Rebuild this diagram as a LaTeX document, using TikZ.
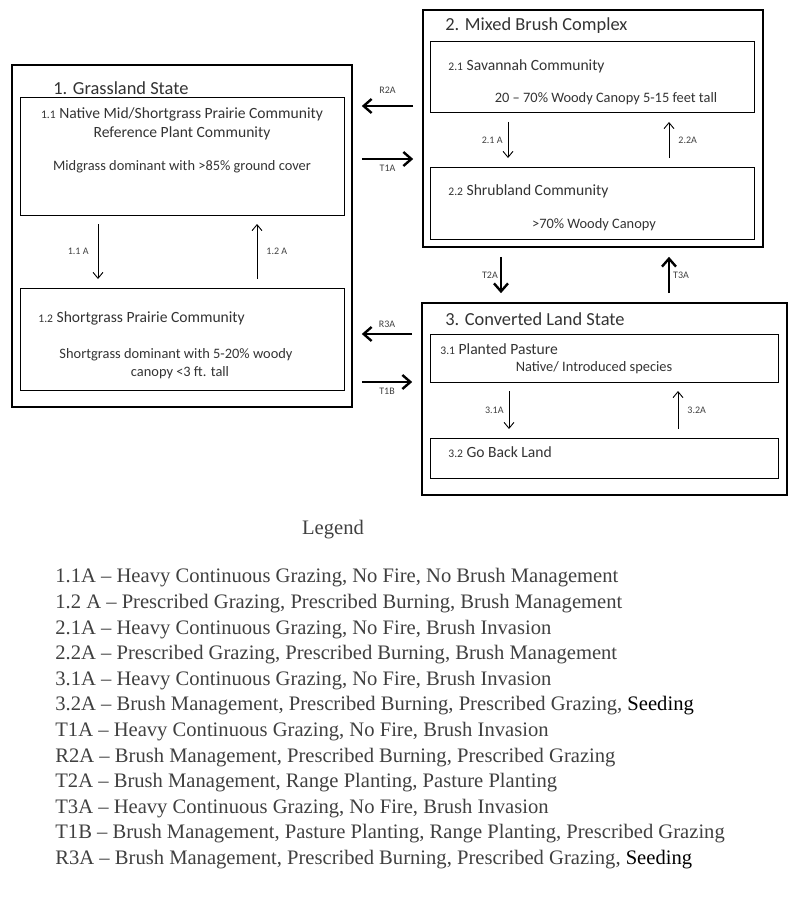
\documentclass[tikz,border=0pt]{standalone}
\usepackage{fontspec}
\setmainfont{Carlito}
\newfontfamily\legfont{Liberation Serif}
\usetikzlibrary{arrows.meta,fit,calc}

\begin{document}
\begin{tikzpicture}[x=0.5pt,y=-0.5pt,
		statebox/.style={draw, line width=1.3pt, inner sep=0pt},
		commbox/.style={draw, line width=0.5pt, inner sep=0pt},
		title/.style={font=\fontsize{9.2}{10}\selectfont, text=black!80, inner sep=0pt, anchor=west},
		head/.style={font=\fontsize{7.8}{8}\selectfont, text=black!80, inner sep=0pt},
		txt/.style={font=\fontsize{7.2}{8}\selectfont, text=black!80, inner sep=0pt},
		lab/.style={font=\fontsize{5}{6}\selectfont, text=black!75, inner sep=2.5pt},
		inarrow/.style={-{Straight Barb[length=3pt,width=5pt]}, line width=0.45pt},
		trarrow/.style={-{Straight Barb[length=4pt,width=7pt]}, line width=1.2pt},
		legline/.style={font=\legfont\fontsize{10.3}{12}\selectfont, text=black!75, inner sep=0pt, anchor=west}]
		\newcommand{\arrgap}{8.5} % space between a box and an arrow
		\newcommand{\legx}{55}
		\newcommand{\legy}{552.4}
		\newcommand{\legspac}{25.6}
		\newcommand{\cno}[1]{{\fontsize{5.8}{6}\selectfont #1}}

		\useasboundingbox (0,0) rectangle (800,920);

		% states
		\node[statebox, fit={(12,65) (352,407)}] (s1) {};
		\node[statebox, fit={(423,10) (763,247)}] (s2) {};
		\node[statebox, fit={(422,303) (787,495)}] (s3) {};

		% communities
		\node[commbox, fit={(20,98) (344,215)}] (c11) {};
		\node[commbox, fit={(20,288) (344,390)}] (c12) {};
		\node[commbox, fit={(430,42) (754,113)}] (c21) {};
		\node[commbox, fit={(430,167) (754,239)}] (c22) {};
		\node[commbox, fit={(430,334) (778,382)}] (c31) {};
		\node[commbox, fit={(430,438) (778,478)}] (c32) {};

		% texts of state 1
		\node[title] (t1) at (53,88) {1. Grassland State};
		\node[head] (t11a) at (182,114) {\cno{1.1} Native Mid/Shortgrass Prairie Community};
		\node[head] (t11b) at (182,133) {Reference Plant Community};
		\node[txt] (t11c) at (182,167) {Midgrass dominant with >85\% ground cover};
		\node[head, anchor=west] (t12a) at (38,318) {\cno{1.2} Shortgrass Prairie Community};
		\node[txt] (t12b) at (176,355) {Shortgrass dominant with 5-20\% woody};
		\node[txt] (t12c) at (180,373) {canopy <3 ft. tall};

		% texts of state 2
		\node[title] (t2) at (445,26) {2. Mixed Brush Complex};
		\node[head, anchor=west] (t21a) at (448,66) {\cno{2.1} Savannah Community};
		\node[txt] (t21b) at (606,99) {20 – 70\% Woody Canopy 5-15 feet tall};
		\node[head, anchor=west] (t22a) at (448,191) {\cno{2.2} Shrubland Community};
		\node[txt] (t22b) at (594,225) {>70\% Woody Canopy};

		% texts of state 3
		\node[title] (t3) at (445,319) {3. Converted Land State};
		\node[head, anchor=west] (t31a) at (440,349) {\cno{3.1} Planted Pasture};
		\node[txt] (t31b) at (594,368) {Native/ Introduced species};
		\node[head, anchor=west] (t32a) at (448,452) {\cno{3.2} Go Back Land};

		% where the arrows run
		\coordinate (x11) at (98,0);
		\coordinate (x12) at (257,0);
		\coordinate (x21) at (508,0);
		\coordinate (x22) at (669,0);
		\coordinate (x31) at (509,0);
		\coordinate (x32) at (678,0);
		\coordinate (xt2) at (501,0);
		\coordinate (xt3) at (669,0);
		\coordinate (yr2) at (0,106);
		\coordinate (yt1) at (0,159);
		\coordinate (yr3) at (0,334);
		\coordinate (yt1b) at (0,382);

		% arrows inside the states
		\draw[inarrow] ($(c11.south -| x11)+(0,\arrgap)$) -- ($(c12.north -| x11)-(0,\arrgap)$) node[lab, midway, left, xshift=-2pt] {1.1 A};
		\draw[inarrow] ($(c12.north -| x12)-(0,\arrgap)$) -- ($(c11.south -| x12)+(0,\arrgap)$) node[lab, midway, right, xshift=2pt] {1.2 A};
		\draw[inarrow] ($(c21.south -| x21)+(0,\arrgap)$) -- ($(c22.north -| x21)-(0,\arrgap)$) node[lab, midway, left] {2.1 A};
		\draw[inarrow] ($(c22.north -| x22)-(0,\arrgap)$) -- ($(c21.south -| x22)+(0,\arrgap)$) node[lab, midway, right, xshift=2pt] {2.2A};
		\draw[inarrow] ($(c31.south -| x31)+(0,\arrgap)$) -- ($(c32.north -| x31)-(0,\arrgap)$) node[lab, midway, left] {3.1A};
		\draw[inarrow] ($(c32.north -| x32)-(0,\arrgap)$) -- ($(c31.south -| x32)+(0,\arrgap)$) node[lab, midway, right, xshift=2pt] {3.2A};

		% arrows between the states
		\draw[trarrow] ($(s2.west |- yr2)-(\arrgap,0)$) -- ($(s1.east |- yr2)+(\arrgap,0)$) node[lab, midway, above, yshift=3pt] {R2A};
		\draw[trarrow] ($(s1.east |- yt1)+(\arrgap,0)$) -- ($(s2.west |- yt1)-(\arrgap,0)$) node[lab, midway, below] {T1A};
		\draw[trarrow] ($(s3.west |- yr3)-(\arrgap,0)$) -- ($(s1.east |- yr3)+(\arrgap,0)$) node[lab, midway, above] {R3A};
		\draw[trarrow] ($(s1.east |- yt1b)+(\arrgap,0)$) -- ($(s3.west |- yt1b)-(\arrgap,0)$) node[lab, midway, below] {T1B};
		\draw[trarrow] ($(s2.south -| xt2)+(0,\arrgap)$) -- ($(s3.north -| xt2)-(0,\arrgap)$) node[lab, midway, left, inner sep=1pt] {T2A};
		\draw[trarrow] ($(s3.north -| xt3)-(0,\arrgap)$) -- ($(s2.south -| xt3)+(0,\arrgap)$) node[lab, midway, right, inner sep=1.5pt] {T3A};

		% legend
		\node[legline, anchor=center] (leg) at (333,530) {Legend};
		\foreach \code/\desc [count=\i] in {
			{1.1A}/{Heavy Continuous Grazing, No Fire, No Brush Management},
			{1.2 A}/{Prescribed Grazing, Prescribed Burning, Brush Management},
			{2.1A}/{Heavy Continuous Grazing, No Fire, Brush Invasion},
			{2.2A}/{Prescribed Grazing, Prescribed Burning, Brush Management},
			{3.1A}/{Heavy Continuous Grazing, No Fire, Brush Invasion},
			{3.2A}/{Brush Management, Prescribed Burning, Prescribed Grazing, \textcolor{black}{Seeding}},
			{T1A}/{Heavy Continuous Grazing, No Fire, Brush Invasion},
			{R2A}/{Brush Management, Prescribed Burning, Prescribed Grazing},
			{T2A}/{Brush Management, Range Planting, Pasture Planting},
			{T3A}/{Heavy Continuous Grazing, No Fire, Brush Invasion},
			{T1B}/{Brush Management, Pasture Planting, Range Planting, Prescribed Grazing},
			{R3A}/{Brush Management, Prescribed Burning, Prescribed Grazing, \textcolor{black}{Seeding}}}
			\node[legline] (leg\i) at (\legx,\legy+\i*\legspac) {\code{} – \desc};
\end{tikzpicture}
\end{document}
